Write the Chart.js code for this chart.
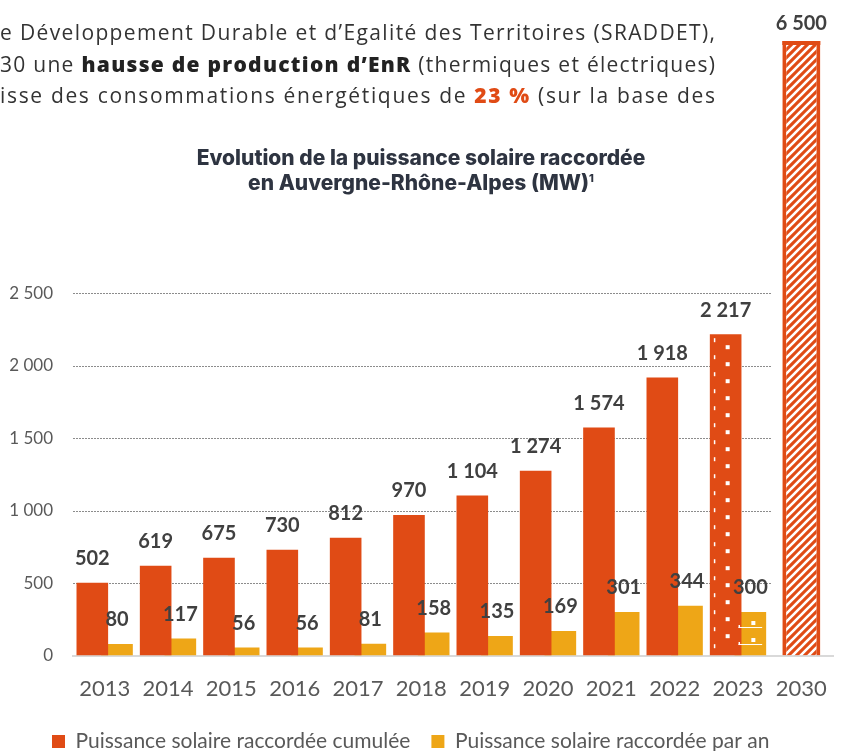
<!DOCTYPE html>
<html lang="fr">
<head>
<meta charset="utf-8">
<title>Puissance solaire raccordée</title>
<script src="https://cdn.jsdelivr.net/npm/chart.js@4.4.1/dist/chart.umd.min.js"></script>
<style>
  html, body { margin: 0; padding: 0; background: #fff; }
  body { width: 849px; height: 751px; position: relative; overflow: hidden; }
  #chart { position: absolute; left: 0; top: 0; }
  .para { position: absolute; left: 0; top: 17px; width: 715px; font-family: "Open Sans", sans-serif;
          font-size: 21px; line-height: 31.5px; color: #333; }
  .para div { white-space: nowrap; }
  .para b { font-weight: 800; color: #222; }
  .para .pct { font-weight: 800; color: #e04b15; }
  .title { position: absolute; left: 100px; width: 642px; top: 145px; text-align: center;
           font-family: Inter, sans-serif; font-weight: 800; font-size: 21px; line-height: 25px; color: #2e3441; }
  .title sup { font-size: 11px; vertical-align: 8px; line-height: 0; }
</style>
</head>
<body>
<canvas id="chart" width="849" height="751"></canvas>
<div class="para">
  <div><span>e Développement Durable et d’Egalité des Territoires (SRADDET),</span></div>
  <div><span>30 une <b>hausse de production d’EnR</b> (thermiques et électriques)</span></div>
  <div><span>isse des consommations énergétiques de <span class="pct">23 %</span> (sur la base des</span></div>
</div>
<div class="title">Evolution de la puissance solaire raccordée<br>en Auvergne-Rhône-Alpes (MW)<sup>1</sup></div>
<script>
// data
const years = ['2013', '2014', '2015', '2016', '2017', '2018', '2019', '2020', '2021', '2022', '2023', '2030'];
const cumulee = [502, 619, 675, 730, 812, 970, 1104, 1274, 1574, 1918, 2217, 6500];
const parAn = [80, 117, 56, 56, 81, 158, 135, 169, 301, 344, 300, null];
const yTicks = [0, 500, 1000, 1500, 2000, 2500];

const ORANGE = '#e04b15';
const YELLOW = '#eea617';
const PROVISOIRE = years.indexOf('2023');
const OBJECTIF = years.indexOf('2030');

function fmt(n) {
    return String(n).replace(/\B(?=(\d{3})+(?!\d))/g, ' ');
}

// stretch each line of the cut paragraph to the column width
document.querySelectorAll('.para > div').forEach(d => {
    const span = d.firstElementChild;
    const w = span.getBoundingClientRect().width;
    const n = span.textContent.length - 1;
    d.style.letterSpacing = ((715 - w) / n) + 'px';
});

// hatch for the 2030 target bar
function makeHatch() {
    const c = document.createElement('canvas');
    c.width = 8; c.height = 8;
    const g = c.getContext('2d');
    g.fillStyle = ORANGE;
    g.fillRect(0, 0, 8, 8);
    g.strokeStyle = '#fff';
    g.lineWidth = 2.6;
    g.beginPath();
    g.moveTo(-2, 10); g.lineTo(10, -2);
    g.moveTo(-2, 2); g.lineTo(2, -2);
    g.moveTo(6, 10); g.lineTo(10, 6);
    g.stroke();
    return g.createPattern(c, 'repeat');
}
const hatch = makeHatch();

// legend starts under the y labels, not at the canvas edge
const legendLeft = {
    id: 'legendLeft',
    afterLayout(chart) {
        chart.legend.left = chart.chartArea.left - 42;
    }
};

// dotted grid, only over the measured years
const gridLines = {
    id: 'gridLines',
    beforeDatasetsDraw(chart) {
        const ctx = chart.ctx, ys = chart.scales.y, xs = chart.scales.x;
        const step = xs.getPixelForValue(1) - xs.getPixelForValue(0);
        const right = xs.getPixelForValue(PROVISOIRE) + step / 2 + 2;
        ctx.save();
        ctx.strokeStyle = '#8c8c8c';
        ctx.lineWidth = 1;
        ctx.setLineDash([2, 1]);
        ctx.beginPath();
        yTicks.forEach(v => {
            if (!v) return;
            const y = Math.round(ys.getPixelForValue(v)) + 0.5;
            ctx.moveTo(chart.chartArea.left, y);
            ctx.lineTo(right, y);
        });
        ctx.stroke();
        ctx.restore();
    }
};

// white dots on the 2023 bars, top cap of the 2030 bar, and the values
const barDecor = {
    id: 'barDecor',
    afterDatasetsDraw(chart) {
        const ctx = chart.ctx, area = chart.chartArea;
        ctx.save();

        const o = chart.getDatasetMeta(0).data[PROVISOIRE];
        if (o) {
            const l = o.x - o.width / 2;
            ctx.fillStyle = '#fff';
            for (let y = o.y + 4; y < o.base - 4; y += 17) {
                ctx.fillRect(l + 4, y, 1.5, 4);
            }
            for (let y = o.y + 11; y < o.base - 6; y += 17) {
                ctx.fillRect(o.x, y, 4, 4);
            }
        }
        const j = chart.getDatasetMeta(1).data[PROVISOIRE];
        if (j) {
            const l = j.x - j.width / 2, r = j.x + j.width / 2;
            ctx.fillStyle = '#fff';
            for (let y = j.y + 9; y < j.base - 4; y += 17) {
                ctx.fillRect(j.x + 1, y, 4, 4);
                ctx.fillRect(l + 4, y + 6, r - l - 8, 1);
                ctx.fillRect(l + 4, y + 4, 1.5, 3);
            }
        }
        const t = chart.getDatasetMeta(0).data[OBJECTIF];
        if (t && t.y < area.top) {
            ctx.fillStyle = ORANGE;
            ctx.fillRect(t.x - t.width / 2, area.top, t.width, 4);
        }

        ctx.font = 'bold 20px Lato';
        ctx.fillStyle = '#404040';
        ctx.textAlign = 'center';
        ctx.textBaseline = 'middle';
        chart.data.datasets.forEach((ds, i) => {
            chart.getDatasetMeta(i).data.forEach((bar, k) => {
                const v = ds.data[k];
                if (v == null) return;
                const y = bar.y < area.top ? area.top - 17 : bar.y - 24;
                ctx.fillText(fmt(v), bar.x, y);
            });
        });
        ctx.restore();
    }
};

Chart.defaults.font.family = 'Lato';

new Chart(document.getElementById('chart'), {
    type: 'bar',
    data: {
        labels: years,
        datasets: [{
            label: 'Puissance solaire raccordée cumulée',
            data: cumulee,
            backgroundColor: c => (c.type === 'data' && c.dataIndex === OBJECTIF) ? hatch : ORANGE,
            borderColor: ORANGE,
            borderWidth: c => (c.type === 'data' && c.dataIndex === OBJECTIF) ? 4 : 0,
            borderSkipped: 'start'
        }, {
            label: 'Puissance solaire raccordée par an',
            data: parAn,
            backgroundColor: YELLOW,
            borderWidth: 0
        }]
    },
    options: {
        responsive: false,
        animation: false,
        devicePixelRatio: 1,
        categoryPercentage: 0.78,
        barPercentage: 1.28,
        skipNull: true,
        maxBarThickness: 38,
        layout: { padding: { left: 0, right: 16, top: 41, bottom: 0 } },
        scales: {
            x: {
                grid: { display: false, drawTicks: false },
                border: { display: true, color: '#d9d9d9', width: 2 },
                ticks: { color: '#595959', font: { size: 22 }, padding: 20, maxRotation: 0, autoSkip: false },
                afterFit: s => { s.height = 54.5; }
            },
            y: {
                min: 0,
                max: 4240,
                grid: { display: false, drawTicks: false },
                border: { display: false },
                afterBuildTicks: s => { s.ticks = yTicks.map(v => ({ value: v })); },
                ticks: { color: '#595959', font: { size: 17 }, padding: 20, callback: v => fmt(v) },
                afterFit: s => { s.width = 73; }
            }
        },
        plugins: {
            legend: {
                position: 'bottom',
                align: 'start',
                maxHeight: 41,
                labels: { boxWidth: 13, boxHeight: 13, padding: 21, color: '#595959', font: { size: 21 } }
            },
            tooltip: { enabled: false }
        }
    },
    plugins: [legendLeft, gridLines, barDecor]
});
</script>
</body>
</html>
